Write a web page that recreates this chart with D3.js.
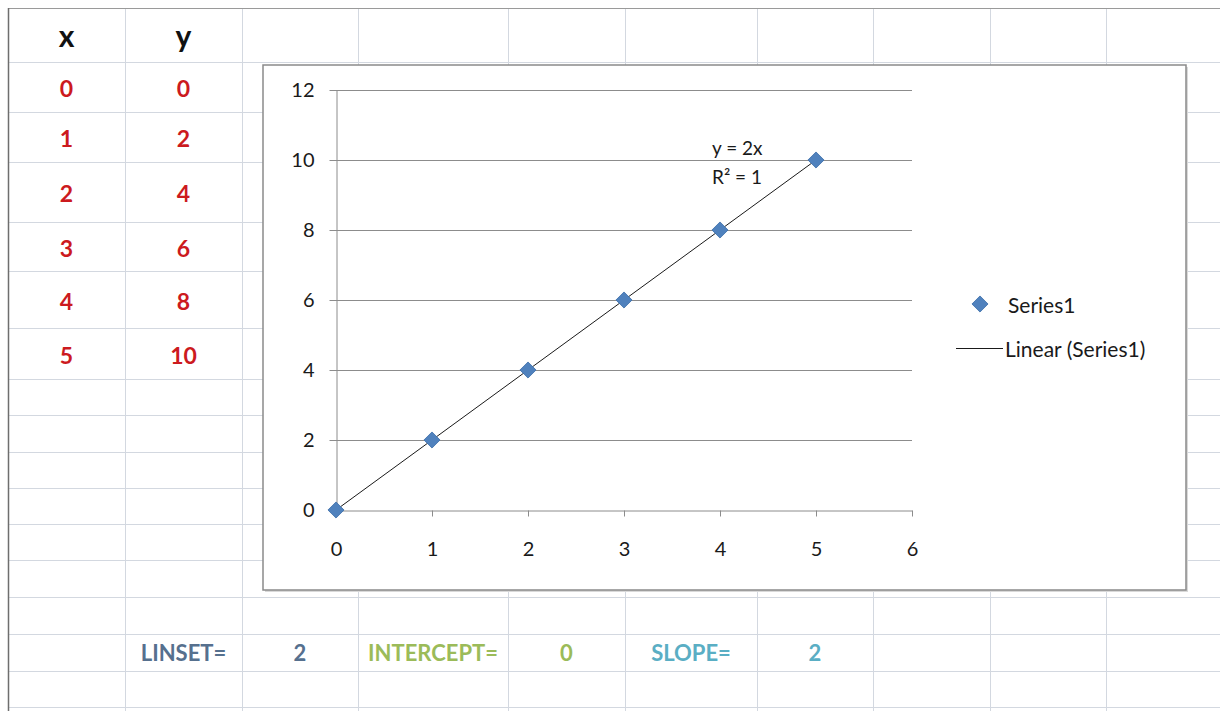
<!DOCTYPE html>
<html>
<head>
<meta charset="utf-8">
<script src="https://d3js.org/d3.v7.min.js"></script>
<style>
    body { margin: 0; background: #ffffff; }
    svg { display: block; font-family: Lato, "Noto Sans", sans-serif; }
</style>
</head>
<body>
<svg id="drawing_region"></svg>
<script>
// data
const xValues = [0, 1, 2, 3, 4, 5];
const yValues = [0, 2, 4, 6, 8, 10];
const xTicks = [0, 1, 2, 3, 4, 5, 6];
const yTicks = [0, 2, 4, 6, 8, 10, 12];
const tableHeaders = ["x", "y"];
const statLabels = ["LINSET=", "INTERCEPT=", "SLOPE="];
const statValues = [2, 0, 2];
const seriesName = "Series1";
const trendName = "Linear (Series1)";

// spreadsheet layout (cell borders)
const colEdges = [8, 125, 242, 358, 508, 625, 757, 873, 990, 1106, 1220];
const rowEdges = [8, 62, 112, 162, 222, 271, 328, 379, 415, 452, 488, 524, 560, 597, 634, 671, 707];

const config = {
    parent: '#drawing_region',
    width: 1220,
    height: 711,
    box: {x: 263, y: 65, w: 923, h: 525},
    plot: {left: 336, right: 912, top: 90, bottom: 510}
};

const svg = d3.select(config.parent)
    .attr('width', config.width)
    .attr('height', config.height);

// --- sheet grid
const grid = svg.append('g');
grid.selectAll('.hline')
    .data(rowEdges.slice(1))
    .join('line')
    .attr('x1', colEdges[0]).attr('x2', config.width)
    .attr('y1', d => d + 0.5).attr('y2', d => d + 0.5)
    .attr('stroke', '#d3d8e0').attr('stroke-width', 1);
grid.selectAll('.vline')
    .data(colEdges.slice(1, -1))
    .join('line')
    .attr('x1', d => d + 0.5).attr('x2', d => d + 0.5)
    .attr('y1', rowEdges[0]).attr('y2', config.height)
    .attr('stroke', '#d3d8e0').attr('stroke-width', 1);
// outer frame of the capture
grid.append('line')
    .attr('x1', colEdges[0]).attr('x2', config.width)
    .attr('y1', rowEdges[0] + 0.5).attr('y2', rowEdges[0] + 0.5)
    .attr('stroke', '#9a9a9a');
grid.append('line')
    .attr('x1', colEdges[0] + 0.5).attr('x2', colEdges[0] + 0.5)
    .attr('y1', rowEdges[0]).attr('y2', config.height)
    .attr('stroke', '#6e6e6e').attr('stroke-width', 1.5);

const rowMid = i => (rowEdges[i] + rowEdges[i + 1]) / 2;
const colMid = i => (colEdges[i] + colEdges[i + 1]) / 2;

// --- x / y table
svg.selectAll('.head')
    .data(tableHeaders)
    .join('text')
    .attr('x', (d, i) => colMid(i))
    .attr('y', rowMid(0))
    .attr('text-anchor', 'middle')
    .attr('dominant-baseline', 'central')
    .style('font-size', '30px').style('font-weight', 'bold')
    .attr('fill', '#111')
    .text(d => d);

[xValues, yValues].forEach((col, c) => {
    svg.selectAll('.val' + c)
        .data(col)
        .join('text')
        .attr('x', colMid(c))
        .attr('y', (d, i) => rowMid(i + 1) + 1)
        .attr('text-anchor', 'middle')
        .attr('dominant-baseline', 'central')
        .style('font-size', '23px').style('font-weight', 'bold')
        .attr('fill', '#cc1a1e')
        .text(d => d);
});

// --- stats row
const statColors = ['#56708e', '#9bbb59', '#5aaec4'];
const statRow = 14;
statLabels.forEach((lab, i) => {
    svg.append('text')
        .attr('x', colMid(1 + i * 2)).attr('y', rowMid(statRow))
        .attr('text-anchor', 'middle').attr('dominant-baseline', 'central')
        .style('font-size', '22px').style('font-weight', 'bold')
        .attr('fill', statColors[i])
        .text(lab);
    svg.append('text')
        .attr('x', colMid(2 + i * 2)).attr('y', rowMid(statRow))
        .attr('text-anchor', 'middle').attr('dominant-baseline', 'central')
        .style('font-size', '22px').style('font-weight', 'bold')
        .attr('fill', statColors[i])
        .text(statValues[i]);
});

// --- chart object
const b = config.box;
svg.append('rect')
    .attr('x', b.x + 2).attr('y', b.y + 2).attr('width', b.w).attr('height', b.h)
    .attr('fill', '#d9d9d9');
svg.append('rect')
    .attr('x', b.x).attr('y', b.y).attr('width', b.w).attr('height', b.h)
    .attr('fill', '#ffffff').attr('stroke', '#8a8a8a').attr('stroke-width', 1.5);

const p = config.plot;
const xscale = d3.scaleLinear().domain([0, 6]).range([p.left, p.right]);
const yscale = d3.scaleLinear().domain([0, 12]).range([p.bottom, p.top]);

const chart = svg.append('g');

// horizontal gridlines
chart.selectAll('.grid')
    .data(yTicks.filter(t => t > 0))
    .join('line')
    .attr('x1', p.left).attr('x2', p.right)
    .attr('y1', d => Math.round(yscale(d)) + 0.5).attr('y2', d => Math.round(yscale(d)) + 0.5)
    .attr('stroke', '#8c8c8c');

const yaxis = d3.axisLeft(yscale).tickValues(yTicks).tickFormat(d3.format('d'))
    .tickSize(7).tickSizeOuter(0).tickPadding(15);
const xaxis = d3.axisBottom(xscale).tickValues(xTicks).tickFormat(d3.format('d'))
    .tickSize(6).tickSizeOuter(0).tickPadding(25);

const yg = chart.append('g').attr('transform', `translate(${p.left + 0.5},0)`).call(yaxis);
const xg = chart.append('g').attr('transform', `translate(0,${p.bottom + 0.5})`).call(xaxis);
[yg, xg].forEach(g => {
    g.selectAll('path, line').attr('stroke', '#8c8c8c');
    g.selectAll('text').attr('fill', '#1a1a1a').style('font-size', '20px')
        .style('font-family', 'Lato, "Noto Sans", sans-serif');
});

// linear trendline from least squares
const mx = d3.mean(xValues), my = d3.mean(yValues);
const slope = d3.sum(xValues, (x, i) => (x - mx) * (yValues[i] - my)) /
              d3.sum(xValues, x => (x - mx) * (x - mx));
const icpt = my - slope * mx;
const xr = d3.extent(xValues);
chart.append('line')
    .attr('x1', xscale(xr[0])).attr('y1', yscale(icpt + slope * xr[0]))
    .attr('x2', xscale(xr[1])).attr('y2', yscale(icpt + slope * xr[1]))
    .attr('stroke', '#1a1a1a').attr('stroke-width', 1);

// markers
const diamond = d3.symbol(d3.symbolSquare, 130);
chart.selectAll('.pt')
    .data(xValues.map((x, i) => ({x: x, y: yValues[i]})))
    .join('path')
    .attr('d', diamond)
    .attr('transform', d => `translate(${xscale(d.x)},${yscale(d.y)}) rotate(45)`)
    .attr('fill', '#4f81bd').attr('stroke', '#3f70ab').attr('stroke-width', 0.8);

// equation label
chart.append('text')
    .attr('x', 712).attr('y', 155)
    .style('font-size', '19px').attr('fill', '#1a1a1a')
    .text(`y = ${d3.format('~g')(slope)}x`);
chart.append('text')
    .attr('x', 712).attr('y', 184)
    .style('font-size', '19px').attr('fill', '#1a1a1a')
    .text('R² = 1');

// legend
const legend = svg.append('g');
legend.append('path')
    .attr('d', diamond)
    .attr('transform', 'translate(980,304) rotate(45)')
    .attr('fill', '#4f81bd').attr('stroke', '#3f70ab').attr('stroke-width', 0.8);
legend.append('text')
    .attr('x', 1008).attr('y', 304).attr('dominant-baseline', 'central')
    .style('font-size', '21px').attr('fill', '#1a1a1a')
    .text(seriesName);
legend.append('line')
    .attr('x1', 956).attr('x2', 1003).attr('y1', 348.5).attr('y2', 348.5)
    .attr('stroke', '#1a1a1a');
legend.append('text')
    .attr('x', 1005).attr('y', 348).attr('dominant-baseline', 'central')
    .style('font-size', '21px').attr('fill', '#1a1a1a')
    .text(trendName);
</script>
</body>
</html>
